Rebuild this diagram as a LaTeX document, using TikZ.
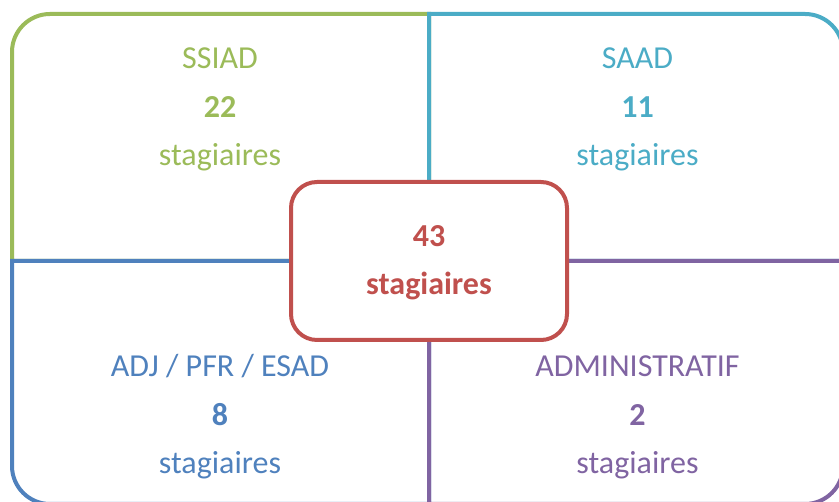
\documentclass[tikz,border=0pt]{standalone}
\usepackage{fontspec}
\setmainfont{Carlito}
\usepackage{tikz}
\definecolor{ssiadgreen}{HTML}{9BBB59}
\definecolor{saadcyan}{HTML}{4BACC6}
\definecolor{adjblue}{HTML}{4F81BD}
\definecolor{adminpurple}{HTML}{8064A2}
\definecolor{totalred}{HTML}{C0504D}
\tikzset{
    quad/.style={draw=#1, line width=4pt},
    quadtext/.style={text=#1, anchor=base, inner sep=0pt, font=\fontsize{32}{38}\selectfont},
    totalbox/.style={draw=totalred, fill=white, line width=4pt, rounded corners=26pt,
        minimum width=276pt, minimum height=158pt},
}

\begin{document}
\begin{tikzpicture}[x=1pt, y=1pt]
	\useasboundingbox (0,0) rectangle (839,502);
	% quadrants, one rounded corner each
	\draw[quad=ssiadgreen] (429,241) -- (12,241) -- (12,450) arc[start angle=180, end angle=90, radius=38] -- (429,488) -- cycle;
	\draw[quad=saadcyan] (429,241) -- (429,488) -- (805,488) arc[start angle=90, end angle=0, radius=38] -- (843,241) -- cycle;
	\draw[quad=adjblue] (429,241) -- (12,241) -- (12,36) arc[start angle=180, end angle=270, radius=38] -- (429,-2) -- cycle;
	\draw[quad=adminpurple] (429,241) -- (843,241) -- (843,36) arc[start angle=0, end angle=-90, radius=38] -- (429,-2) -- cycle;
	% labels
	\foreach \nm/\x/\y/\col/\head/\num in {ssiad/220/433/ssiadgreen/SSIAD/22, saad/637.5/433/saadcyan/SAAD/11,
		adj/220/125/adjblue/{ADJ / PFR / ESAD}/8, admin/637.5/125/adminpurple/ADMINISTRATIF/2}{
		\node[quadtext=\col] (\nm-head) at (\x,\y) {\head};
		\node[quadtext=\col] (\nm-num) at (\x,\y-48.5) {\textbf{\num}};
		\node[quadtext=\col] (\nm-unit) at (\x,\y-97) {stagiaires};
	}
	% total in the middle
	\node[totalbox] (total) at (429,241) {};
	\node[quadtext=totalred] (total-num) at ([yshift=14pt]total.center) {\textbf{43}};
	\node[quadtext=totalred] (total-unit) at ([yshift=-34pt]total.center) {\textbf{stagiaires}};
\end{tikzpicture}
\end{document}
